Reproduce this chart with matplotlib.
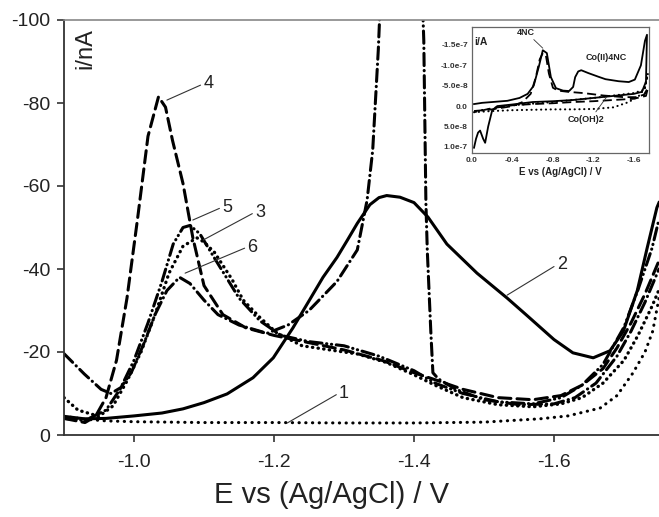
import matplotlib
matplotlib.use('Agg')
import matplotlib.pyplot as plt

plt.rcParams['font.family'] = ['Liberation Sans', 'DejaVu Sans']
plt.rcParams['axes.unicode_minus'] = False

# ─────────────────────────────────────────────
# Main panel data  (E in V, i in nA)
# ─────────────────────────────────────────────
e1 = [-0.90, -0.93, -0.96, -1.00, -1.10, -1.20, -1.30, -1.40, -1.50, -1.58,
      -1.62, -1.666, -1.69, -1.713, -1.73, -1.741, -1.75]
i1 = [-4.5, -3.8, -3.4, -3.2, -3.0, -3.0, -2.9, -2.9, -3.1, -3.9,
      -4.6, -6.5, -9.5, -15.0, -20.0, -25.0, -33.0]

e2 = [-0.90, -0.929, -0.96, -1.00, -1.04, -1.07, -1.10, -1.133, -1.17, -1.199,
      -1.227, -1.251, -1.27, -1.29, -1.305, -1.319, -1.337, -1.35, -1.361, -1.38,
      -1.40, -1.42, -1.447, -1.49, -1.533, -1.56, -1.60, -1.627, -1.656, -1.68,
      -1.699, -1.719, -1.733, -1.747, -1.75]
i2 = [-4.5, -3.9, -4.0, -4.6, -5.3, -6.3, -7.8, -9.9, -13.8, -18.6,
      -25.8, -32.6, -38.0, -42.8, -47.0, -51.0, -55.5, -57.2, -57.7, -57.3,
      -56.0, -52.5, -46.0, -39.0, -33.0, -29.0, -23.0, -19.8, -18.6, -20.3,
      -25.0, -34.8, -45.0, -54.8, -56.0]

e3 = [-0.90, -0.92, -0.95, -0.97, -0.99, -1.01, -1.03, -1.05, -1.07, -1.09,
      -1.10, -1.115, -1.14, -1.156, -1.18, -1.204, -1.24, -1.28, -1.32, -1.36,
      -1.40, -1.43, -1.47, -1.52, -1.57, -1.61, -1.64, -1.67, -1.70, -1.72,
      -1.74, -1.75]
i3 = [-9.0, -6.0, -4.5, -7.0, -13.0, -20.0, -29.0, -39.0, -45.5, -47.5,
      -46.5, -44.0, -37.5, -32.5, -28.3, -24.6, -21.5, -20.5, -19.5, -17.5,
      -14.5, -12.0, -9.0, -7.3, -6.8, -7.5, -9.0, -12.5, -18.0, -24.0,
      -31.0, -35.0]

e4 = [-0.90, -0.93, -0.945, -0.96, -0.975, -0.99, -1.005, -1.02, -1.035, -1.045,
      -1.055, -1.07, -1.084, -1.10, -1.127, -1.16, -1.20, -1.237, -1.30, -1.356,
      -1.40, -1.427, -1.47, -1.52, -1.57, -1.61, -1.64, -1.67, -1.69, -1.71,
      -1.73, -1.75]
i4 = [-4.0, -3.0, -4.5, -9.0, -18.0, -33.0, -52.0, -72.0, -81.5, -79.0,
      -71.0, -60.6, -47.6, -36.0, -29.0, -25.8, -24.0, -22.7, -20.5, -17.9,
      -15.0, -13.5, -11.0, -9.0, -8.5, -9.5, -12.0, -16.0, -21.0, -27.0,
      -34.0, -42.0]

e5 = [-0.90, -0.93, -0.96, -0.98, -1.00, -1.02, -1.04, -1.056, -1.07, -1.08,
      -1.094, -1.11, -1.13, -1.15, -1.18, -1.21, -1.25, -1.30, -1.35, -1.40,
      -1.43, -1.47, -1.52, -1.57, -1.61, -1.64, -1.67, -1.70, -1.72, -1.74,
      -1.75]
i5 = [-4.0, -3.5, -6.0, -11.0, -18.0, -27.0, -37.0, -46.0, -50.0, -50.5,
      -48.5, -44.0, -38.5, -33.0, -27.5, -24.0, -22.5, -21.5, -19.0, -15.5,
      -12.5, -10.0, -8.0, -7.5, -9.0, -12.0, -17.0, -26.0, -35.0, -45.0,
      -52.0]

e6 = [-0.90, -0.929, -0.953, -0.967, -0.981, -0.996, -1.014, -1.03, -1.047, -1.065,
      -1.08, -1.10, -1.12, -1.15, -1.19, -1.22, -1.25, -1.29, -1.319, -1.333,
      -1.341, -1.349, -1.352, -1.412, -1.414, -1.417, -1.419, -1.424, -1.427, -1.435,
      -1.46, -1.50, -1.55, -1.60, -1.63, -1.66, -1.69, -1.71, -1.73, -1.75]
i6 = [-19.6, -14.7, -11.0, -10.0, -11.4, -15.0, -22.0, -29.0, -34.8, -38.0,
      -36.5, -32.5, -29.0, -26.5, -24.5, -26.5, -30.0, -37.0, -44.6, -56.6,
      -68.6, -92.8, -105.0, -105.0, -95.0, -56.0, -44.4, -25.0, -15.0, -13.5,
      -11.0, -8.5, -7.3, -7.5, -9.0, -12.5, -19.0, -25.0, -32.0, -40.0]

# curve labels: text, point on curve, text position
lab_text = ['4', '5', '3', '6', '2', '1']
lab_xy = [(-1.047, -80.7), (-1.084, -51.8), (-1.099, -47.0),
          (-1.073, -39.0), (-1.533, -33.7), (-1.219, -2.9)]
lab_txt = [(-1.099, -84.6), (-1.126, -54.9), (-1.173, -53.7),
           (-1.162, -45.3), (-1.604, -41.0), (-1.293, -10.1)]

x_ticks = [-1.0, -1.2, -1.4, -1.6]
y_ticks = [0, -20, -40, -60, -80, -100]

# ─────────────────────────────────────────────
# Inset data  (E in V, i in A)
# ─────────────────────────────────────────────
ins_e_solid = [-0.02, -0.10, -0.20, -0.35, -0.47, -0.55, -0.61, -0.66, -0.70, -0.74,
               -0.78, -0.83, -0.90, -0.96, -1.00, -1.02, -1.05, -1.08, -1.15, -1.25,
               -1.32, -1.45, -1.55, -1.61, -1.67, -1.71, -1.73, -1.72, -1.68, -1.60,
               -1.40, -1.20, -1.00, -0.80, -0.60, -0.40, -0.25, -0.20, -0.16, -0.13,
               -0.11, -0.08, -0.06, -0.04, -0.02]
ins_i_solid = [-5e-9, -8e-9, -1e-8, -1.3e-8, -2e-8, -3e-8, -5e-8, -9.6e-8, -1.37e-7, -1.3e-7,
               -7.1e-8, -4.4e-8, -3.8e-8, -3.7e-8, -4.7e-8, -7.1e-8, -8.5e-8, -8.8e-8, -8.1e-8, -7.2e-8,
               -6.6e-8, -6.1e-8, -5.9e-8, -6.5e-8, -1.0e-7, -1.6e-7, -1.75e-7, -6e-8, -3.5e-8, -3e-8,
               -2.5e-8, -2e-8, -1.5e-8, -1.2e-8, -1e-8, -4e-9, 0.0, 1e-8, 5e-8, 9e-8,
               8e-8, 6e-8, 6.5e-8, 8e-8, 1.02e-7]

ins_e_dash = [-0.02, -0.20, -0.40, -0.50, -0.58, -0.63, -0.67, -0.70, -0.73, -0.76,
              -0.80, -0.85, -0.95, -1.10, -1.30, -1.50, -1.62, -1.70, -1.74, -1.72,
              -1.60, -1.40, -1.20, -1.00, -0.80, -0.60, -0.40, -0.20, -0.02]
ins_i_dash = [1.2e-8, 8e-9, 0.0, -1e-8, -3e-8, -7e-8, -1.15e-7, -1.3e-7, -1.25e-7, -8e-8,
              -4.5e-8, -3.8e-8, -3.5e-8, -3.2e-8, -2.6e-8, -2.2e-8, -2.2e-8, -2.8e-8, -4.5e-8, -2.5e-8,
              -1.8e-8, -1.5e-8, -1.2e-8, -1e-8, -7e-9, -5e-9, -2e-9, 5e-9, 1.5e-8]

ins_e_dot = [-0.02, -0.20, -0.40, -0.60, -0.80, -1.00, -1.20, -1.40, -1.55, -1.65,
             -1.71, -1.74, -1.70, -1.60, -1.40, -1.20, -1.00, -0.80, -0.60, -0.40,
             -0.30]
ins_i_dot = [1.5e-8, 1.2e-8, 1e-8, 9e-9, 8e-9, 8e-9, 7e-9, 3e-9, -1e-8, -2.5e-8,
             -4.4e-8, -8e-8, -4e-8, -3.2e-8, -2.6e-8, -2e-8, -1.5e-8, -1e-8, -6e-9, -2e-9,
             0.0]

ins_x_ticks = [0.0, -0.4, -0.8, -1.2, -1.6]
ins_x_labels = ['0.0', '-0.4', '-0.8', '-1.2', '-1.6']
ins_y_ticks = [-1.5e-7, -1.0e-7, -5.0e-8, 0.0, 5.0e-8, 1.0e-7]
ins_y_labels = ['-1.5e-7', '-1.0e-7', '-5.0e-8', '0.0', '5.0e-8', '1.0e-7']


def main():
    W, H = 659, 517
    fig = plt.figure(figsize=(W / 100, H / 100), dpi=100)
    fig.patch.set_facecolor('white')

    # ── Main axes ──
    ax = fig.add_axes([64 / W, 1 - 435 / H, (W - 64) / W, (435 - 20) / H])
    lw = 2.2
    ax.plot(e1, i1, color='k', lw=lw, ls=(0, (0.1, 2.1)), dash_capstyle='round')
    ax.plot(e2, i2, color='k', lw=lw, ls='-')
    ax.plot(e3, i3, color='k', lw=2.4, ls=(0, (0.1, 1.6)), dash_capstyle='round')
    ax.plot(e4, i4, color='k', lw=lw, ls=(0, (4, 2)), dash_capstyle='round')
    ax.plot(e5, i5, color='k', lw=lw, ls=(0, (4, 1.5, 0.1, 1.5, 0.1, 1.5)),
            dash_capstyle='round')
    ax.plot(e6, i6, color='k', lw=lw, ls=(0, (4, 1.6, 0.1, 1.6)), dash_capstyle='round')

    for t, xy, xt in zip(lab_text, lab_xy, lab_txt):
        ax.annotate(t, xy=xy, xytext=xt, fontsize=13, color='#222',
                    ha='left', va='center',
                    arrowprops=dict(arrowstyle='-', lw=0.8, color='#333',
                                    relpos=(0, 0.5), shrinkA=0, shrinkB=0))

    ax.set_xlim(-0.9, -1.75)
    ax.set_ylim(0, -100)
    ax.set_xticks(x_ticks)
    ax.set_xticklabels([f'{v:.1f}' for v in x_ticks])
    ax.set_yticks(y_ticks)
    ax.set_yticklabels([str(v) for v in y_ticks])
    ax.tick_params(axis='both', labelsize=14, length=5, width=1.2, color='#333',
                   labelcolor='#222', direction='out')
    ax.tick_params(axis='x', pad=9)
    ax.tick_params(axis='y', pad=5)

    for s in ['left', 'bottom']:
        ax.spines[s].set_color('#333')
        ax.spines[s].set_linewidth(1.3)
    ax.spines['top'].set_color('#888')
    ax.spines['top'].set_linewidth(1.2)
    ax.spines['right'].set_visible(False)

    ax.text(0.018, 0.93, 'i/nA', transform=ax.transAxes, rotation=90,
            fontsize=17, color='#222', ha='left', va='center')
    fig.text(332 / W, 1 - 495 / H, 'E vs (Ag/AgCl) / V', fontsize=21,
             color='#222', ha='center', va='center')

    # ── Inset ──
    axi = fig.add_axes([472 / W, 1 - 153 / H, 177 / W, 126 / H])
    axi.plot(ins_e_solid, ins_i_solid, color='k', lw=1.3)
    axi.plot(ins_e_dash, ins_i_dash, color='k', lw=1.3, ls=(0, (5, 2.5)))
    axi.plot(ins_e_dot, ins_i_dot, color='k', lw=1.5, ls=(0, (0.1, 2.2)),
             dash_capstyle='round')
    axi.set_xlim(0.0, -1.75)
    axi.set_ylim(1.15e-7, -1.94e-7)
    axi.set_xticks(ins_x_ticks)
    axi.set_xticklabels(ins_x_labels, fontweight='bold')
    axi.set_yticks(ins_y_ticks)
    axi.set_yticklabels(ins_y_labels, fontweight='bold')
    axi.tick_params(axis='both', length=0, labelsize=6, labelcolor='#333', pad=3)
    for s in axi.spines.values():
        s.set_color('#666')
        s.set_linewidth(0.9)
    axi.set_xlabel('E vs (Ag/AgCl) / V', fontsize=7, fontweight='bold',
                   color='#222', labelpad=2)
    axi.text(0.01, 0.88, 'i/A', transform=axi.transAxes, fontsize=7.5,
             fontweight='bold', color='#222', ha='left', va='center')

    axi.annotate('4NC', xy=(-0.70, -1.42e-7), xytext=(-0.44, -1.81e-7),
                 fontsize=6.5, fontweight='bold', color='#222', ha='left', va='center',
                 arrowprops=dict(arrowstyle='-', lw=0.6, color='#333',
                                 relpos=(0.8, 0), shrinkA=0, shrinkB=0))
    axi.text(-1.12, -1.2e-7, 'Co(II)4NC', fontsize=6.5, fontweight='bold',
             color='#222', ha='left', va='center')
    axi.annotate('Co(OH)2', xy=(-1.33, -2.2e-8), xytext=(-0.95, 3.2e-8),
                 fontsize=6.5, fontweight='bold', color='#222', ha='left', va='center',
                 arrowprops=dict(arrowstyle='-', lw=0.6, color='#333',
                                 relpos=(0.7, 1), shrinkA=0, shrinkB=0))

    fig.savefig('out.png', dpi=100)
    plt.close(fig)


if __name__ == '__main__':
    main()
